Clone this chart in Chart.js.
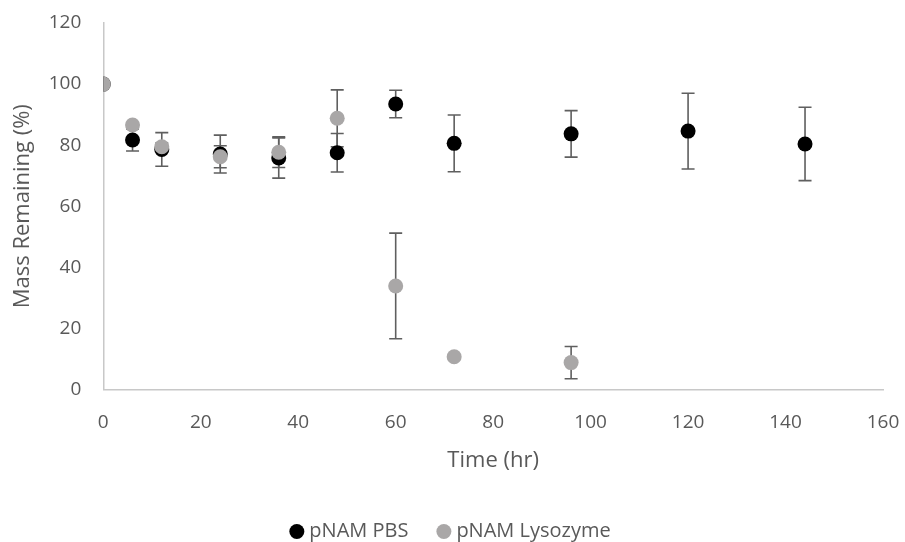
<!DOCTYPE html>
<html>
<head>
<meta charset="utf-8">
<script src="https://cdn.jsdelivr.net/npm/chart.js@4/dist/chart.umd.min.js"></script>
<style>
  html, body { margin: 0; padding: 0; background: #ffffff; }
  #wrap { width: 905px; height: 542px; }
</style>
</head>
<body>
<div id="wrap"><canvas id="c" width="905" height="542"></canvas></div>
<script>
// Sampling times (hr)
const timesPBS = [0, 6, 12, 24, 36, 48, 60, 72, 96, 120, 144];
const timesLys = [0, 6, 12, 24, 36, 48, 60, 72, 96];

// Mass remaining (%) and standard deviations
const massPBS = [100, 81.7, 78.6, 77.1, 75.8, 77.5, 93.5, 80.6, 83.7, 84.6, 80.4];
const errPBS  = [0, 3.6, 5.5, 6.2, 6.6, 6.3, 4.5, 9.3, 7.6, 12.4, 12.0];
const massLys = [100, 86.6, 79.5, 76.2, 77.7, 88.8, 33.9, 10.7, 8.8];
const errLys  = [0, 0, 1.2, 3.6, 5.0, 9.3, 17.3, 0, 5.3];

// Axis ticks
const xTicks = [0, 20, 40, 60, 80, 100, 120, 140, 160];
const yTicks = [0, 20, 40, 60, 80, 100, 120];

const seriesNames = ['pNAM PBS', 'pNAM Lysozyme'];

const FONT = "'Open Sans', 'Liberation Sans', sans-serif";
const TEXT = '#595959';

function toPoints(xs, ys, es) {
  return xs.map((x, i) => ({ x: x, y: ys[i], err: es[i] }));
}

// Vertical error bars with caps, drawn through the chart's scales
const errorBars = {
  id: 'errorBars',
  beforeDatasetsDraw(chart) {
    const ctx = chart.ctx;
    const xs = chart.scales.x, ys = chart.scales.y;
    ctx.save();
    ctx.strokeStyle = '#5f5f5f';
    ctx.lineWidth = 1.6;
    chart.data.datasets.forEach((ds) => {
      ds.data.forEach((p) => {
        if (!p.err) return;
        const px = xs.getPixelForValue(p.x);
        const top = ys.getPixelForValue(p.y + p.err);
        const bot = ys.getPixelForValue(p.y - p.err);
        const cap = 6.5;
        ctx.beginPath();
        ctx.moveTo(px, top); ctx.lineTo(px, bot);
        ctx.moveTo(px - cap, top); ctx.lineTo(px + cap, top);
        ctx.moveTo(px - cap, bot); ctx.lineTo(px + cap, bot);
        ctx.stroke();
      });
    });
    ctx.restore();
  }
};

// Keep the wide gap between legend entries but drop most of the space under them
const LEGEND_GAP = 33;
const legendTrim = {
  id: 'legendTrim',
  beforeLayout(chart) {
    const lg = chart.legend;
    if (!lg || lg._trimmed) return;
    const fit = lg.fit;
    lg.fit = function () { fit.call(this); this.height -= 9.5; };
    lg._trimmed = true;
  }
};

new Chart(document.getElementById('c'), {
  type: 'scatter',
  data: {
    datasets: [
      {
        label: seriesNames[0],
        data: toPoints(timesPBS, massPBS, errPBS),
        backgroundColor: '#000000',
        borderColor: '#000000',
        borderWidth: 0,
        pointRadius: 7.5,
        pointHoverRadius: 7.5,
        order: 2
      },
      {
        label: seriesNames[1],
        data: toPoints(timesLys, massLys, errLys),
        backgroundColor: '#a9a7a7',
        borderColor: '#a9a7a7',
        borderWidth: 0,
        pointRadius: 7.5,
        pointHoverRadius: 7.5,
        order: 1
      }
    ]
  },
  options: {
    responsive: false,
    animation: false,
    events: [],
    layout: { padding: 0 },
    plugins: {
      tooltip: { enabled: false },
      legend: {
        position: 'bottom',
        labels: {
          usePointStyle: true,
          pointStyle: 'circle',
          boxWidth: 5,
          boxHeight: 10.6,
          padding: LEGEND_GAP,
          color: TEXT,
          font: { family: FONT, size: 20 },
          sort: (a, b) => a.datasetIndex - b.datasetIndex
        }
      }
    },
    scales: {
      x: {
        type: 'linear',
        min: 0,
        max: 160,
        afterBuildTicks(scale) { scale.ticks = xTicks.map(v => ({ value: v })); },
        afterFit(scale) {
          scale.height = 99;
          scale.paddingLeft = 0;
          scale.paddingRight = 22;
        },
        grid: { display: false, drawTicks: false },
        border: { display: true, color: '#c8c8c8', width: 1.5 },
        ticks: { color: TEXT, padding: 22, font: { family: FONT, size: 19 } },
        title: {
          display: true,
          text: 'Time (hr)',
          color: TEXT,
          font: { family: FONT, size: 22 },
          padding: { top: 4, bottom: 15 }
        }
      },
      y: {
        type: 'linear',
        min: 0,
        max: 120,
        afterBuildTicks(scale) { scale.ticks = yTicks.map(v => ({ value: v })); },
        afterFit(scale) {
          scale.width = 103.3;
          scale.paddingTop = 23;
          scale.paddingBottom = 0;
        },
        grid: { display: false, drawTicks: false },
        border: { display: true, color: '#c8c8c8', width: 1.5 },
        ticks: { color: TEXT, padding: 22, font: { family: FONT, size: 19 } },
        title: {
          display: true,
          text: 'Mass Remaining (%)',
          color: TEXT,
          font: { family: FONT, size: 22 },
          padding: { top: 10, bottom: 4 }
        }
      }
    }
  },
  plugins: [errorBars, legendTrim]
});
</script>
</body>
</html>
